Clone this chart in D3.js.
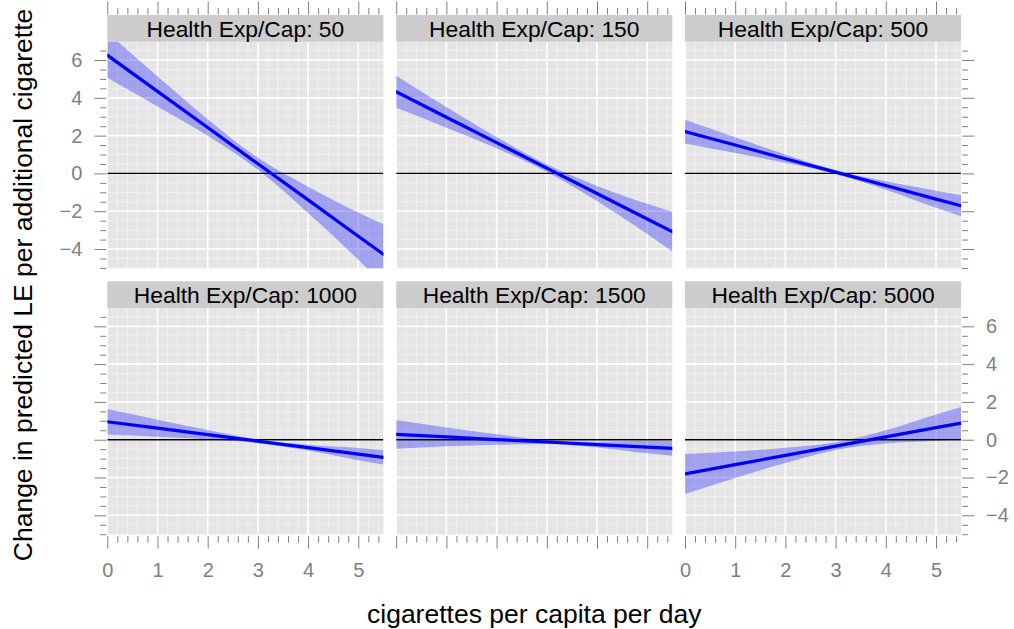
<!DOCTYPE html>
<html>
<head>
<meta charset="utf-8">
<script src="https://cdn.jsdelivr.net/npm/d3@7"></script>
<style>
  body { margin: 0; background: #fff; }
  text { font-family: "Liberation Sans", Arial, Helvetica, sans-serif; }
</style>
</head>
<body>
<svg id="chart" width="1014" height="629"></svg>
<script>
// values (fit line and confidence band per panel)
var xs = [0, 1, 2, 3, 4, 5, 5.5];

var panelLabels = ['Health Exp/Cap: 50', 'Health Exp/Cap: 150', 'Health Exp/Cap: 500',
                   'Health Exp/Cap: 1000', 'Health Exp/Cap: 1500', 'Health Exp/Cap: 5000'];

var fit50   = [6.26, 4.34, 2.43, 0.51, -1.40, -3.32, -4.28];
var lo50    = [5.06, 3.54, 1.99, 0.19, -2.10, -4.57, -5.87];
var hi50    = [7.46, 5.14, 2.87, 0.83, -0.70, -2.07, -2.69];

var fit150  = [4.32, 2.97, 1.63, 0.28, -1.06, -2.41, -3.08];
var lo150   = [3.47, 2.42, 1.33, 0.08, -1.46, -3.21, -4.13];
var hi150   = [5.17, 3.52, 1.93, 0.48, -0.66, -1.61, -2.03];

var fit500  = [2.21, 1.50, 0.78, 0.07, -0.64, -1.36, -1.71];
var lo500   = [1.58, 1.08, 0.56, -0.03, -0.86, -1.81, -2.26];
var hi500   = [2.84, 1.92, 1.00, 0.17, -0.42, -0.91, -1.16];

var fit1000 = [0.95, 0.61, 0.27, -0.08, -0.42, -0.76, -0.93];
var lo1000  = [0.28, 0.16, 0.02, -0.18, -0.57, -1.08, -1.31];
var hi1000  = [1.62, 1.06, 0.52, 0.02, -0.27, -0.44, -0.55];

var fit1500 = [0.28, 0.15, 0.01, -0.12, -0.26, -0.39, -0.46];
var lo1500  = [-0.48, -0.35, -0.27, -0.22, -0.41, -0.72, -0.85];
var hi1500  = [1.04, 0.65, 0.29, -0.02, -0.11, -0.06, -0.07];

var fit5000 = [-1.81, -1.32, -0.83, -0.34, 0.15, 0.64, 0.88];
var lo5000  = [-2.87, -2.02, -1.23, -0.54, -0.20, -0.06, 0.03];
var hi5000  = [-0.75, -0.62, -0.43, -0.14, 0.50, 1.34, 1.73];

var xTicks = [0, 1, 2, 3, 4, 5];
var yTicks = [-4, -2, 0, 2, 4, 6];

var fits = [fit50, fit150, fit500, fit1000, fit1500, fit5000],
    los  = [lo50, lo150, lo500, lo1000, lo1500, lo5000],
    his  = [hi50, hi150, hi500, hi1000, hi1500, hi5000];

var
  colX = [107.3, 396.2, 685],
  panelW = 276.1,
  rowY = [41.7, 308],
  panelH = 226.6,
  stripH = 26.7,
  xMinor = d3.range(0, 5.51, 0.2),
  yMinor = d3.range(-5, 6.9, 0.5),
  grey = '#7f7f7f'
  ;

var svg = d3.select('#chart');

var x = d3.scaleLinear().domain([0, 5.5]).range([0, panelW]);
var y = d3.scaleLinear().domain([-5.02, 6.97]).range([panelH, 0]);

var area = d3.area()
  .curve(d3.curveMonotoneX)
  .x(function(d){ return x(d.x); })
  .y0(function(d){ return y(d.lo); })
  .y1(function(d){ return y(d.hi); });

var line = d3.line()
  .x(function(d){ return x(d.x); })
  .y(function(d){ return y(d.fit); });

function styleAxis(g){
  g.select('.domain').remove();
  g.selectAll('line').attr('stroke', grey).attr('stroke-width', 1);
  g.selectAll('text').attr('fill', grey).style('font-size', '20px');
}

function minorOnly(v){ return Math.abs(v - Math.round(v)) > 0.01; }

panelLabels.forEach(function(label, i){
  var
    col = i % 3,
    row = Math.floor(i / 3),
    pts = xs.map(function(v, k){ return {x: v, fit: fits[i][k], lo: los[i][k], hi: his[i][k]}; }),
    g = svg.append('g').attr('transform', 'translate(' + colX[col] + ',' + rowY[row] + ')')
    ;

  g.append('clipPath').attr('id', 'clip' + i)
    .append('rect').attr('width', panelW).attr('height', panelH);

  g.append('rect')
    .attr('width', panelW).attr('height', panelH)
    .attr('fill', '#e5e5e5');

  // minor grid
  g.selectAll('.vminor').data(xMinor).enter().append('line')
    .attr('x1', x).attr('x2', x).attr('y1', 0).attr('y2', panelH)
    .attr('stroke', '#f2f2f2').attr('stroke-width', 0.8);
  g.selectAll('.hminor').data(yMinor).enter().append('line')
    .attr('y1', y).attr('y2', y).attr('x1', 0).attr('x2', panelW)
    .attr('stroke', '#f2f2f2').attr('stroke-width', 0.8);

  // major grid
  g.selectAll('.vmajor').data(xTicks).enter().append('line')
    .attr('x1', x).attr('x2', x).attr('y1', 0).attr('y2', panelH)
    .attr('stroke', '#fff').attr('stroke-width', 1.6);
  g.selectAll('.hmajor').data(yTicks).enter().append('line')
    .attr('y1', y).attr('y2', y).attr('x1', 0).attr('x2', panelW)
    .attr('stroke', '#fff').attr('stroke-width', 1.6);

  var inner = g.append('g').attr('clip-path', 'url(#clip' + i + ')');

  inner.append('path')
    .datum(pts)
    .attr('d', area)
    .attr('fill', '#0000ff')
    .attr('fill-opacity', 0.3);

  inner.append('line')
    .attr('x1', 0).attr('x2', panelW)
    .attr('y1', y(0)).attr('y2', y(0))
    .attr('stroke', '#000').attr('stroke-width', 1.3);

  inner.append('path')
    .datum(pts)
    .attr('d', line)
    .attr('fill', 'none')
    .attr('stroke', '#0000ff')
    .attr('stroke-width', 3.2)
    .attr('stroke-linecap', 'round');

  // strip
  var strip = svg.append('g')
    .attr('transform', 'translate(' + colX[col] + ',' + (rowY[row] - stripH) + ')');
  strip.append('rect')
    .attr('width', panelW).attr('height', stripH)
    .attr('fill', '#cccccc');
  strip.append('text')
    .attr('x', panelW / 2).attr('y', stripH / 2)
    .attr('dy', '0.36em')
    .attr('text-anchor', 'middle')
    .style('font-size', '22.8px')
    .attr('fill', '#000')
    .text(label);

  // axes: top row gets top ticks, bottom row gets bottom ticks
  var labelled;
  if(row === 0){
    svg.append('g').attr('transform', 'translate(' + colX[col] + ',' + (rowY[0] - stripH - 0.5) + ')')
      .call(d3.axisTop(x).tickValues(xTicks).tickSize(13).tickFormat(''))
      .call(styleAxis);
    svg.append('g').attr('transform', 'translate(' + colX[col] + ',' + (rowY[0] - stripH - 0.5) + ')')
      .call(d3.axisTop(x).tickValues(xMinor.filter(minorOnly)).tickSize(6.5).tickFormat(''))
      .call(styleAxis);
  } else {
    labelled = (col !== 1);
    svg.append('g').attr('transform', 'translate(' + colX[col] + ',' + (rowY[1] + panelH + 1.5) + ')')
      .call(d3.axisBottom(x).tickValues(xTicks).tickSize(12.5).tickPadding(14)
        .tickFormat(labelled ? d3.format('d') : ''))
      .call(styleAxis);
    svg.append('g').attr('transform', 'translate(' + colX[col] + ',' + (rowY[1] + panelH + 1.5) + ')')
      .call(d3.axisBottom(x).tickValues(xMinor.filter(minorOnly)).tickSize(6.5).tickFormat(''))
      .call(styleAxis);
  }

  // left ticks on first column, right ticks on last column
  var yMinorOnly = yMinor.filter(function(v){ return v % 2 !== 0; });
  if(col === 0){
    labelled = (row === 0);
    svg.append('g').attr('transform', 'translate(' + (colX[0] - 1) + ',' + rowY[row] + ')')
      .call(d3.axisLeft(y).tickValues(yTicks).tickSize(12).tickPadding(12)
        .tickFormat(labelled ? d3.format('d') : ''))
      .call(styleAxis);
    svg.append('g').attr('transform', 'translate(' + (colX[0] - 1) + ',' + rowY[row] + ')')
      .call(d3.axisLeft(y).tickValues(yMinorOnly).tickSize(6).tickFormat(''))
      .call(styleAxis);
  }
  if(col === 2){
    labelled = (row === 1);
    svg.append('g').attr('transform', 'translate(' + (colX[2] + panelW + 1) + ',' + rowY[row] + ')')
      .call(d3.axisRight(y).tickValues(yTicks).tickSize(12).tickPadding(12)
        .tickFormat(labelled ? d3.format('d') : ''))
      .call(styleAxis);
    svg.append('g').attr('transform', 'translate(' + (colX[2] + panelW + 1) + ',' + rowY[row] + ')')
      .call(d3.axisRight(y).tickValues(yMinorOnly).tickSize(6).tickFormat(''))
      .call(styleAxis);
  }
});

// axis titles
svg.append('text')
  .attr('x', colX[0] + (colX[2] + panelW - colX[0]) / 2)
  .attr('y', 623)
  .attr('text-anchor', 'middle')
  .style('font-size', '26.5px')
  .text('cigarettes per capita per day');

svg.append('text')
  .attr('transform', 'translate(22,285) rotate(-90)')
  .attr('dy', '0.36em')
  .attr('text-anchor', 'middle')
  .style('font-size', '26.5px')
  .text('Change in predicted LE per additional cigarette');
</script>
</body>
</html>
